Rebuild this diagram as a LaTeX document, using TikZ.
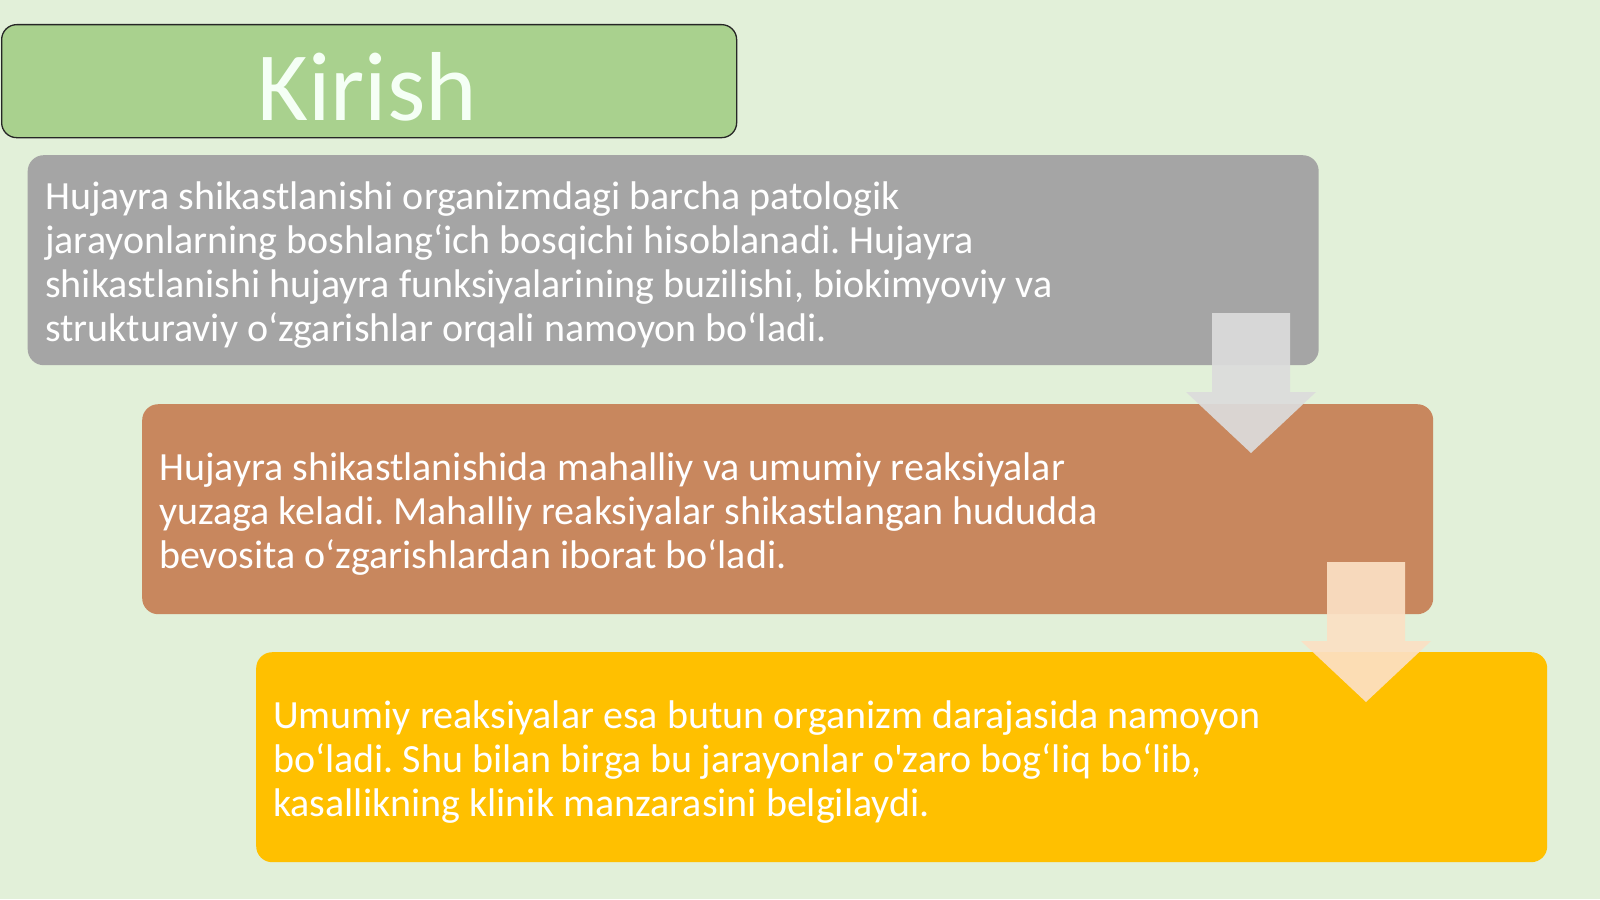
\documentclass[tikz,border=0pt]{standalone}
\usepackage{fontspec}
\setmainfont{Carlito}
\newfontfamily\rawfont{Carlito}
\frenchspacing
\begin{document}
\begin{tikzpicture}[x=1pt,y=-1pt,
  panel/.style={rounded corners=16pt, inner sep=0pt, anchor=north west, minimum width=1291pt, minimum height=210pt},
  bodytext/.style={anchor=west, inner sep=0pt, align=left, text=white, font=\fontsize{40}{43.8}\selectfont},
  blockarrow/.style={draw=none}]
\definecolor{bg}{HTML}{E2F0D9}
\definecolor{titlegreen}{HTML}{A9D18E}
\definecolor{panelgray}{HTML}{A5A5A5}
\definecolor{panelorange}{HTML}{C8875E}
\definecolor{panelyellow}{HTML}{FFC000}
\definecolor{arrowgray}{HTML}{DCDCDC}
\definecolor{arrowpeach}{HTML}{FCE0C4}
\useasboundingbox (0,0) rectangle (1600,899);
\fill[bg] (0,0) rectangle (1600,899);
% title
\node[draw=black!85, line width=1.3pt, fill=titlegreen, rounded corners=15pt, anchor=north west, minimum width=735pt, minimum height=113pt, inner sep=0pt] (title) at (1,24) {};
\node[text=white!96!green, font=\fontsize{98}{110}\selectfont, anchor=base, inner sep=0pt] (titletext) at (367,120) {Kirish};
% panels
\node[panel, fill=panelgray] (p1) at (27.5,155) {};
\node[bodytext] (t1) at (45,265) {Hujayra shikastlanishi organizmdagi barcha patologik\\jarayonlarning boshlang‘ich bosqichi hisoblanadi. Hujayra\\shikastlanishi hujayra funksiyalarining buzilishi, biokimyoviy va\\strukturaviy o‘zgarishlar orqali namoyon bo‘ladi.};
\node[panel, fill=panelorange] (p2) at (142,404) {};
\fill[blockarrow, arrowgray, opacity=0.92] (1212,313) -- (1290,313) -- (1290,392) -- (1316,392) -- (1251,453) -- (1186,392) -- (1212,392) -- cycle;
\node[bodytext] (t2) at (159,514) {Hujayra shikastlanishida mahalliy va umumiy reaksiyalar\\yuzaga keladi. Mahalliy reaksiyalar shikastlangan hududda\\bevosita o‘zgarishlardan iborat bo‘ladi.};
\node[panel, fill=panelyellow] (p3) at (256,652) {};
\fill[blockarrow, arrowpeach, opacity=0.92] (1327,562) -- (1405,562) -- (1405,641) -- (1431,641) -- (1366,702) -- (1301,641) -- (1327,641) -- cycle;
\node[bodytext] (t3) at (273,762) {Umumiy reaksiyalar esa butun organizm darajasida namoyon\\bo‘ladi. Shu bilan birga bu jarayonlar o{\rawfont '}zaro bog‘liq bo‘lib,\\kasallikning klinik manzarasini belgilaydi.};
\end{tikzpicture}
\end{document}
